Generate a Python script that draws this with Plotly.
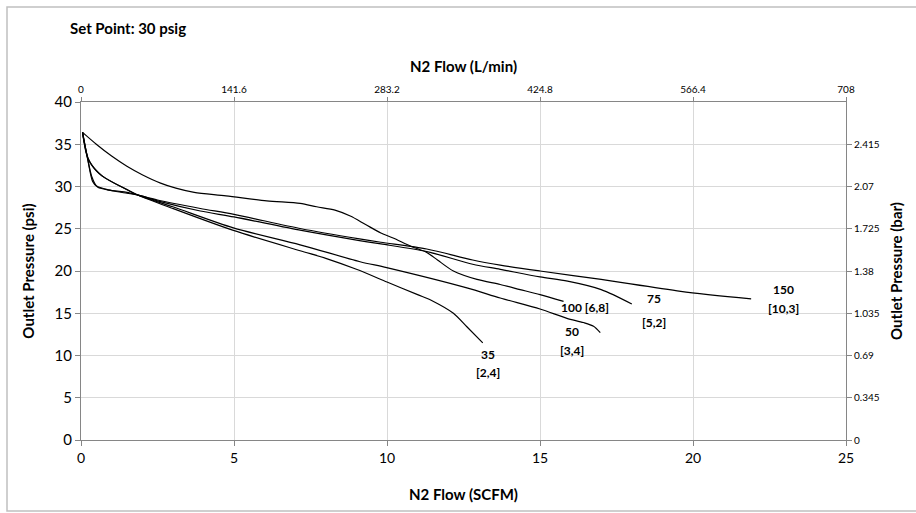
import plotly.graph_objects as go

# ---- data (N2 flow in SCFM, outlet pressure in psi) ----
x_150 = [0.05, 0.2, 0.35, 0.5, 0.9, 1.5, 1.85, 2.5, 3.9, 5.0, 7.2, 9.1, 9.8, 11.3, 12.8, 13.7, 15.0, 17.0, 19.6, 21.9]
y_150 = [36.4, 33.6, 31.2, 30.1, 29.6, 29.3, 29.0, 28.4, 27.4, 26.7, 25.0, 23.8, 23.4, 22.6, 21.3, 20.7, 20.0, 19.0, 17.6, 16.7]

x_75 = [0.05, 0.22, 0.38, 0.55, 1.0, 1.5, 1.85, 2.5, 3.9, 5.0, 7.2, 9.1, 9.8, 11.3, 12.8, 13.7, 15.0, 15.9, 17.0, 18.0]
y_75 = [36.4, 33.2, 30.6, 29.9, 29.5, 29.2, 29.0, 28.3, 27.1, 26.4, 24.8, 23.6, 23.2, 22.3, 20.8, 20.2, 19.3, 18.8, 17.8, 16.1]

x_100 = [0.05, 0.5, 1.0, 1.5, 2.0, 2.6, 3.1, 3.7, 4.74, 6.07, 7.16, 7.7, 8.3, 8.8, 9.3, 9.8, 10.2, 10.8, 11.3, 11.65, 12.17, 12.94, 13.7, 14.35, 15.0, 15.77]
y_100 = [36.4, 35.0, 33.6, 32.4, 31.4, 30.4, 29.8, 29.3, 28.9, 28.3, 28.0, 27.6, 27.2, 26.5, 25.5, 24.5, 23.9, 22.9, 22.2, 21.3, 20.0, 19.0, 18.4, 17.8, 17.2, 16.4]

x_50 = [0.05, 0.27, 0.71, 1.47, 1.85, 3.0, 4.98, 7.16, 9.12, 9.99, 12.61, 13.7, 15.0, 15.88, 16.42, 16.75, 16.97]
y_50 = [36.4, 33.0, 31.2, 29.7, 29.0, 27.6, 25.1, 23.1, 21.1, 20.4, 18.0, 16.8, 15.5, 14.4, 13.9, 13.45, 12.7]

x_35 = [0.05, 0.22, 0.6, 1.3, 1.85, 3.0, 4.98, 7.16, 8.0, 9.0, 10.0, 11.0, 11.52, 12.17, 12.61, 13.13]
y_35 = [36.4, 33.4, 31.5, 30.0, 29.0, 27.4, 24.8, 22.4, 21.5, 20.2, 18.7, 17.2, 16.4, 15.0, 13.4, 11.5]

series_x = [x_150, x_75, x_100, x_50, x_35]
series_y = [y_150, y_75, y_100, y_50, y_35]

# secondary axis scales
lpm_ticks = [0, 141.6, 283.2, 424.8, 566.4, 708]
lpm_labels = ["0", "141.6", "283.2", "424.8", "566.4", "708"]
bar_ticks = [0, 0.345, 0.69, 1.035, 1.38, 1.725, 2.07, 2.415]
bar_labels = ["0", "0.345", "0.69", "1.035", "1.38", "1.725", "2.07", "2.415"]

# curve labels (inlet pressure psi [bar])
label_text = ["150", "[10,3]", "75", "[5,2]", "100 [6,8]", "50", "[3,4]", "35", "[2,4]"]
label_x = [22.96, 22.96, 18.73, 18.73, 16.48, 16.04, 16.04, 13.31, 13.31]
label_y = [17.87, 15.62, 16.71, 13.92, 15.69, 12.88, 10.60, 10.09, 7.93]

FONT = "Lato, 'Open Sans', sans-serif"
AXIS_COLOR = "#868686"
GRID_COLOR = "#d9d9d9"

fig = go.Figure()
for xs, ys in zip(series_x, series_y):
    fig.add_trace(go.Scatter(
        x=xs, y=ys, mode="lines",
        line=dict(color="black", width=1.2, shape="spline", smoothing=0.8),
        showlegend=False, hoverinfo="skip"))

# invisible trace to carry the secondary axes
fig.add_trace(go.Scatter(
    x=[lpm_ticks[0], lpm_ticks[-1]], y=[bar_ticks[0], bar_ticks[-1]],
    xaxis="x2", yaxis="y2", mode="markers", marker=dict(opacity=0),
    showlegend=False, hoverinfo="skip"))

for t, x, y in zip(label_text, label_x, label_y):
    fig.add_annotation(x=x, y=y, text=t, showarrow=False,
                       font=dict(family=FONT, size=12, color="black", weight="bold"),
                       xanchor="center", yanchor="middle")

fig.add_annotation(xref="paper", yref="paper", x=-0.017, y=1.219,
                   text="Set Point: 30 psig", showarrow=False,
                   font=dict(family=FONT, size=15, color="black", weight="bold"),
                   xanchor="left", yanchor="middle")

fig.add_shape(type="rect", xref="paper", yref="paper",
              x0=(7 - 81) / 765, x1=(925 - 81) / 765,
              y0=(440 - 511) / 338, y1=(440 - 7) / 338,
              line=dict(color="#c0c0c0", width=1.5))

fig.update_layout(
    width=916, height=513,
    margin=dict(l=81, r=70, t=102, b=73),
    paper_bgcolor="white", plot_bgcolor="white",
    font=dict(family=FONT, color="black"),
    xaxis=dict(range=[0, 25], dtick=5, tick0=0,
               showgrid=True, gridcolor=GRID_COLOR, gridwidth=1,
               zeroline=False, showline=True, linecolor=AXIS_COLOR, linewidth=1,
               ticks="outside", ticklen=5, tickcolor=AXIS_COLOR,
               tickfont=dict(size=14, family=FONT),
               title=dict(text="N2 Flow (SCFM)", standoff=24,
                          font=dict(size=15, family=FONT, weight="bold"))),
    yaxis=dict(range=[0, 40], dtick=5, tick0=0,
               showgrid=True, gridcolor=GRID_COLOR, gridwidth=1,
               zeroline=False, showline=True, linecolor=AXIS_COLOR, linewidth=1,
               ticks="outside", ticklen=5, tickcolor=AXIS_COLOR,
               tickfont=dict(size=15, family=FONT),
               title=dict(text="Outlet Pressure (psi)", standoff=16,
                          font=dict(size=15, family=FONT, weight="bold"))),
    xaxis2=dict(overlaying="x", side="top", range=[0, 708],
                tickvals=lpm_ticks, ticktext=lpm_labels,
                showgrid=False, zeroline=False, showline=True,
                linecolor=AXIS_COLOR, linewidth=1,
                ticks="outside", ticklen=4, tickcolor=AXIS_COLOR,
                tickfont=dict(size=10, family=FONT),
                title=dict(text="N2 Flow (L/min)", standoff=6,
                           font=dict(size=15, family=FONT, weight="bold"))),
    yaxis2=dict(overlaying="y", side="right", range=[0, 2.76],
                tickvals=bar_ticks, ticktext=bar_labels,
                showgrid=False, zeroline=False, showline=True,
                linecolor=AXIS_COLOR, linewidth=1,
                ticks="outside", ticklen=5, tickcolor=AXIS_COLOR,
                tickfont=dict(size=10, family=FONT),
                title=dict(text="Outlet Pressure (bar)", standoff=12,
                           font=dict(size=15, family=FONT, weight="bold"))),
)

fig.write_html("out.html", config={"displayModeBar": False},
               post_script="document.body.style.margin='0';document.body.style.overflow='hidden';")
